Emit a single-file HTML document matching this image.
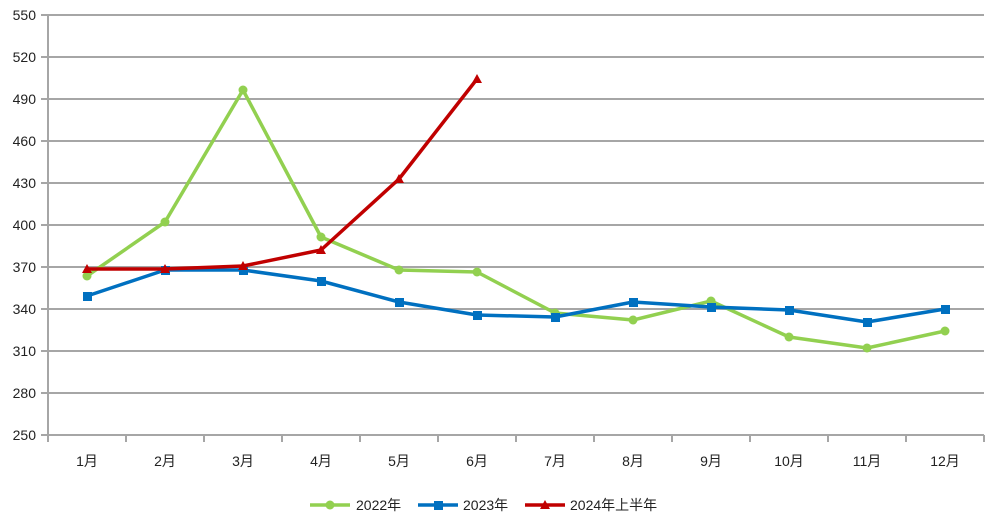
<!DOCTYPE html>
<html><head><meta charset="utf-8"><style>
html,body{margin:0;padding:0;background:#fff;}
svg{display:block;}
text{font-family:"Liberation Sans","Noto Sans CJK SC",sans-serif;font-size:14px;fill:#222;}
</style></head><body>
<svg width="996" height="520" viewBox="0 0 996 520" xmlns="http://www.w3.org/2000/svg">
<g stroke="#a6a6a6" stroke-width="2">
<line x1="41" y1="15" x2="984" y2="15"/>
<line x1="41" y1="57" x2="984" y2="57"/>
<line x1="41" y1="99" x2="984" y2="99"/>
<line x1="41" y1="141" x2="984" y2="141"/>
<line x1="41" y1="183" x2="984" y2="183"/>
<line x1="41" y1="225" x2="984" y2="225"/>
<line x1="41" y1="267" x2="984" y2="267"/>
<line x1="41" y1="309" x2="984" y2="309"/>
<line x1="41" y1="351" x2="984" y2="351"/>
<line x1="41" y1="393" x2="984" y2="393"/>
<line x1="41" y1="435" x2="984" y2="435"/>
<line x1="48" y1="15" x2="48" y2="442"/>
<line x1="126" y1="435" x2="126" y2="442"/><line x1="204" y1="435" x2="204" y2="442"/><line x1="282" y1="435" x2="282" y2="442"/><line x1="360" y1="435" x2="360" y2="442"/><line x1="438" y1="435" x2="438" y2="442"/><line x1="516" y1="435" x2="516" y2="442"/><line x1="594" y1="435" x2="594" y2="442"/><line x1="672" y1="435" x2="672" y2="442"/><line x1="750" y1="435" x2="750" y2="442"/><line x1="828" y1="435" x2="828" y2="442"/><line x1="906" y1="435" x2="906" y2="442"/><line x1="984" y1="435" x2="984" y2="442"/>
</g>
<g text-anchor="end">
<text x="36" y="20">550</text><text x="36" y="62">520</text><text x="36" y="104">490</text><text x="36" y="146">460</text><text x="36" y="188">430</text><text x="36" y="230">400</text><text x="36" y="272">370</text><text x="36" y="314">340</text><text x="36" y="356">310</text><text x="36" y="398">280</text><text x="36" y="440">250</text>
</g>
<g text-anchor="middle">
<text x="87" y="466">1月</text><text x="165" y="466">2月</text><text x="243" y="466">3月</text><text x="321" y="466">4月</text><text x="399" y="466">5月</text><text x="477" y="466">6月</text><text x="555" y="466">7月</text><text x="633" y="466">8月</text><text x="711" y="466">9月</text><text x="789" y="466">10月</text><text x="867" y="466">11月</text><text x="945" y="466">12月</text>
</g>
<polyline fill="none" stroke="#92d050" stroke-width="3.5" stroke-linejoin="round" points="87,276 165,222 243,90 321,237 399,270 477,272 555,313 633,320 711,301 789,337 867,348 945,331"/>
<g fill="#92d050">
<circle cx="87" cy="276" r="4.5"/><circle cx="165" cy="222" r="4.5"/><circle cx="243" cy="90" r="4.5"/><circle cx="321" cy="237" r="4.5"/><circle cx="399" cy="270" r="4.5"/><circle cx="477" cy="272" r="4.5"/><circle cx="555" cy="313" r="4.5"/><circle cx="633" cy="320" r="4.5"/><circle cx="711" cy="301" r="4.5"/><circle cx="789" cy="337" r="4.5"/><circle cx="867" cy="348" r="4.5"/><circle cx="945" cy="331" r="4.5"/>
</g>
<polyline fill="none" stroke="#0070c0" stroke-width="3.5" stroke-linejoin="round" points="87,296 165,270 243,270 321,281 399,302 477,315 555,317 633,302 711,307 789,310 867,322 945,309"/>
<g fill="#0070c0">
<rect x="83" y="292" width="9" height="9"/><rect x="161" y="266" width="9" height="9"/><rect x="239" y="266" width="9" height="9"/><rect x="317" y="277" width="9" height="9"/><rect x="395" y="298" width="9" height="9"/><rect x="473" y="311" width="9" height="9"/><rect x="551" y="313" width="9" height="9"/><rect x="629" y="298" width="9" height="9"/><rect x="707" y="303" width="9" height="9"/><rect x="785" y="306" width="9" height="9"/><rect x="863" y="318" width="9" height="9"/><rect x="941" y="305" width="9" height="9"/>
</g>
<polyline fill="none" stroke="#c00000" stroke-width="3.5" stroke-linejoin="round" points="87,269 165,269 243,266 321,250 399,179 477,79"/>
<g fill="#c00000">
<polygon points="87,264 82,273 92,273"/><polygon points="165,264 160,273 170,273"/><polygon points="243,261 238,270 248,270"/><polygon points="321,245 316,254 326,254"/><polygon points="399,174 394,183 404,183"/><polygon points="477,74 472,83 482,83"/>
</g>
<line x1="310" y1="505" x2="350" y2="505" stroke="#92d050" stroke-width="3.5"/><circle cx="330" cy="505" r="4.5" fill="#92d050"/>
<text x="356" y="510">2022年</text>
<line x1="418" y1="505" x2="458" y2="505" stroke="#0070c0" stroke-width="3.5"/><rect x="434" y="501" width="9" height="9" fill="#0070c0"/>
<text x="463" y="510">2023年</text>
<line x1="525" y1="505" x2="565" y2="505" stroke="#c00000" stroke-width="3.5"/><polygon points="545,500 540,509 550,509" fill="#c00000"/>
<text x="570" y="510">2024年上半年</text>
</svg>
</body></html>
